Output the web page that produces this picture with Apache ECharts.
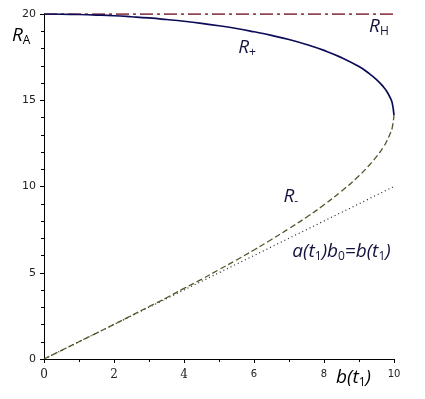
<!DOCTYPE html>
<html>
<head>
  <meta charset="utf-8">
  <script src="https://cdn.jsdelivr.net/npm/echarts@6/dist/echarts.min.js"></script>
  <style>
    * { margin: 0; padding: 0; }
    html, body, #chart { width: 425px; height: 399px; background: #fff; }
  </style>
</head>
<body>
  <div id="chart"></div>
  <script>
    // b(t1) sample points
    var bValues = [0, 0.5, 1, 1.5, 2, 2.5, 3, 3.5, 4, 4.5, 5, 5.5, 6, 6.5, 7, 7.5, 8, 8.5, 9, 9.25, 9.5, 9.7, 9.8, 9.9, 9.95, 10];
    // upper branch R+
    var rPlus = [20, 19.99, 19.97, 19.94, 19.9, 19.84, 19.77, 19.68, 19.58, 19.46, 19.32, 19.16, 18.97, 18.76, 18.52, 18.23, 17.89, 17.47, 16.95, 16.61, 16.2, 15.77, 15.49, 15.11, 14.83, 14.14];
    // lower branch R-
    var rMinus = [0, 0.5, 1.0, 1.5, 2.01, 2.52, 3.04, 3.55, 4.09, 4.62, 5.18, 5.74, 6.32, 6.93, 7.56, 8.22, 8.94, 9.73, 10.62, 11.14, 11.73, 12.3, 12.66, 13.11, 13.42, 14.14];
    // reference line a(t1)b0 = b(t1)
    var identityLine = [[0, 0], [10, 10]];
    // horizontal level R_H
    var rH = 20;

    function pairs(xs, ys) {
      return xs.map(function (x, i) { return [x, ys[i]]; });
    }

    var ink = '#12123c';
    var italic = { fontStyle: 'italic', fontFamily: 'Open Sans', fontSize: 19, color: ink, lineHeight: 24 };
    var sub = { fontFamily: 'Open Sans', fontSize: 12, color: ink, lineHeight: 24, padding: [10, 0, 0, 0] };
    var richText = { i: italic, s: sub };

    // text labels placed in data coordinates
    var notes = [
      { value: [5.8, 18.05], label: '{i|R}{s|+}' },
      { value: [9.57, 19.25], label: '{i|R}{s|H}' },
      { value: [7.05, 9.4], label: '{i|R}{s|-}' },
      { value: [8.5, 6.25], label: '{i|a(t}{s|1}{i|)b}{s|0}{i|=b(t}{s|1}{i|)}' }
    ];

    var chart = echarts.init(document.getElementById('chart'));
    chart.setOption({
      animation: false,
      grid: { left: 44, right: 31, top: 14, bottom: 40 },
      xAxis: {
        type: 'value', min: 0, max: 10, interval: 2,
        axisLine: { lineStyle: { color: '#000', width: 1 } },
        axisTick: { show: true, length: 4, lineStyle: { color: '#000' } },
        minorTick: { show: true, splitNumber: 2, length: 3, lineStyle: { color: '#000' } },
        splitLine: { show: false },
        axisLabel: {
          margin: 10, color: '#222',
          formatter: function (v) { return v <= 4 ? '{a|' + v + '}' : '{b|' + v + '}'; },
          rich: {
            a: { fontFamily: 'DejaVu Serif', fontSize: 12, color: '#222' },
            b: { fontFamily: 'DejaVu Sans', fontSize: 10, color: '#222' }
          }
        }
      },
      yAxis: {
        type: 'value', min: 0, max: 20, interval: 5,
        axisLine: { show: true, lineStyle: { color: '#000', width: 1 } },
        axisTick: { show: true, length: 4, lineStyle: { color: '#000' } },
        minorTick: { show: true, splitNumber: 5, length: 3, lineStyle: { color: '#000' } },
        splitLine: { show: false },
        axisLabel: { margin: 8, fontFamily: 'DejaVu Sans', fontSize: 11, color: '#222' }
      },
      graphic: [
        { type: 'text', left: 12, top: 25, style: { rich: richText, text: '{i|R}{s|A}' } },
        { type: 'text', left: 336, top: 367, style: { rich: richText, text: '{i|b(t}{s|1}{i|)}' } }
      ],
      series: [
        {
          name: 'RH', type: 'line', showSymbol: false,
          data: [[0, rH], [10, rH]],
          lineStyle: { color: '#6e0a1a', width: 1.6, type: [13, 4, 3, 4] }
        },
        {
          name: 'identity', type: 'line', showSymbol: false,
          data: identityLine,
          lineStyle: { color: '#222', width: 1.2, type: [1, 3] }
        },
        {
          name: 'R-', type: 'line', showSymbol: false, smooth: true,
          data: pairs(bValues, rMinus),
          lineStyle: { color: '#55552a', width: 1.3, type: [6, 3] }
        },
        {
          name: 'R+', type: 'line', showSymbol: false, smooth: true,
          data: pairs(bValues, rPlus),
          lineStyle: { color: '#0b0b58', width: 1.7 }
        },
        {
          name: 'notes', type: 'scatter', symbolSize: 0, silent: true,
          itemStyle: { opacity: 1 },
          emphasis: { disabled: true },
          data: notes.map(function (n) {
            return {
              value: n.value,
              label: {
                show: true, position: 'inside', opacity: 1,
                textBorderWidth: 0, formatter: n.label, rich: richText
              }
            };
          })
        }
      ]
    });
  </script>
</body>
</html>
